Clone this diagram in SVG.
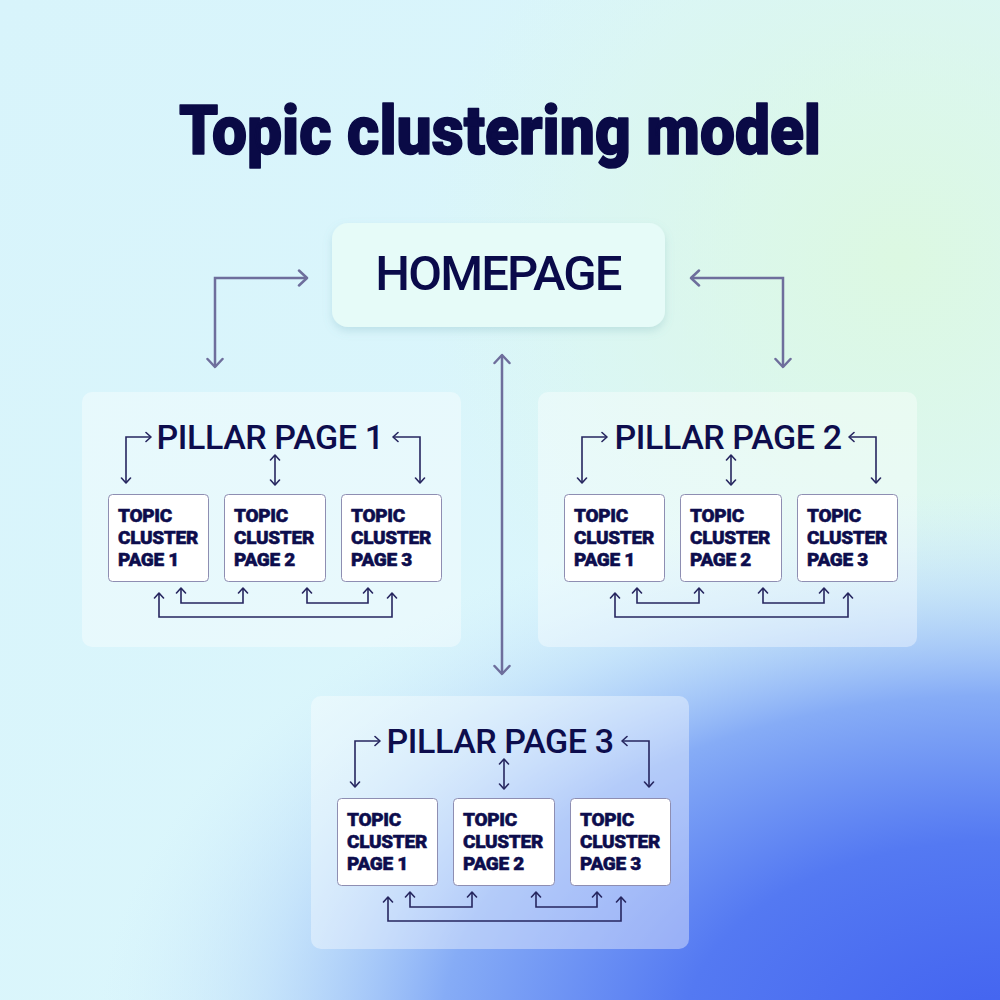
<svg xmlns="http://www.w3.org/2000/svg" width="1000" height="1000" viewBox="0 0 1000 1000">
  <defs>
    <linearGradient id="bg0" x1="0" y1="0" x2="1" y2="1">
      <stop offset="0" stop-color="#d8f4fb"/>
      <stop offset="1" stop-color="#dcf7fc"/>
    </linearGradient>
    <radialGradient id="green" cx="900" cy="260" r="480" gradientUnits="userSpaceOnUse">
      <stop offset="0" stop-color="#dcf8e2" stop-opacity="1"/>
      <stop offset="1" stop-color="#dcf8e2" stop-opacity="0"/>
    </radialGradient>
    <radialGradient id="blue" cx="0" cy="0" r="1" gradientUnits="userSpaceOnUse" gradientTransform="translate(1000,1030) scale(900,540)">
      <stop offset="0" stop-color="#4262f0"/>
      <stop offset="0.35" stop-color="#5479f2"/>
      <stop offset="0.62" stop-color="#86acf6"/>
      <stop offset="0.82" stop-color="#b8d8fa" stop-opacity="0.6"/>
      <stop offset="1" stop-color="#d0ecfb" stop-opacity="0"/>
    </radialGradient>
    <filter id="shadow" x="-10%" y="-10%" width="120%" height="140%">
      <feDropShadow dx="0" dy="4" stdDeviation="4" flood-color="#6aa6b0" flood-opacity="0.25"/>
    </filter>
    <marker id="ah" viewBox="0 0 12 18" refX="10" refY="9" markerWidth="12" markerHeight="18" markerUnits="userSpaceOnUse" orient="auto-start-reverse">
      <path d="M2,1.5 L10,9 L2,16.5" fill="none" stroke="#6e6e9c" stroke-width="2.5" stroke-linecap="round" stroke-linejoin="round"/>
    </marker>
    <marker id="as" viewBox="0 0 8 12" refX="7" refY="6" markerWidth="8" markerHeight="12" markerUnits="userSpaceOnUse" orient="auto-start-reverse">
      <path d="M2,1.5 L7,6 L2,10.5" fill="none" stroke="#26265f" stroke-width="1.6" stroke-linecap="round" stroke-linejoin="round"/>
    </marker>
    <style>
      .title { font-family: Roboto, "Liberation Sans", sans-serif; font-weight: 900; fill: #0a0a46; stroke: #0a0a46; stroke-width: 1.6px; stroke-linejoin: round; }
      .home { font-family: Roboto, "Liberation Sans", sans-serif; font-weight: 500; fill: #0a0a4a; letter-spacing: -1.8px; }
      .pill { font-family: Roboto, "Liberation Sans", sans-serif; font-weight: 500; font-size: 34px; fill: #0d0d4d; letter-spacing: -0.4px; }
      .tc { font-family: Roboto, "Liberation Sans", sans-serif; font-weight: 900; font-size: 19px; fill: #0d0d4d; stroke: #0d0d4d; stroke-width: 0.5px; stroke-linejoin: round; letter-spacing: -0.3px; }
      .pbox { fill: #ffffff; fill-opacity: 0.38; }
      .cbox { fill: #ffffff; stroke: #8e8eb2; stroke-width: 1; }
      .big { fill: none; stroke: #6e6e9c; stroke-width: 2.5; marker-start: url(#ah); marker-end: url(#ah); }
      .sm { fill: none; stroke: #26265f; stroke-width: 1.6; marker-start: url(#as); marker-end: url(#as); }
    </style>
    <g id="pillarContent">
      <rect class="cbox" x="108.5" y="494.5" width="100" height="87" rx="4"/>
      <rect class="cbox" x="224.5" y="494.5" width="101" height="87" rx="4"/>
      <rect class="cbox" x="341.5" y="494.5" width="100" height="87" rx="4"/>
      <text class="tc" x="118" y="522">TOPIC</text>
      <text class="tc" x="118" y="544">CLUSTER</text>
      <text class="tc" x="118" y="566">PAGE 1</text>
      <text class="tc" x="234" y="522">TOPIC</text>
      <text class="tc" x="234" y="544">CLUSTER</text>
      <text class="tc" x="234" y="566">PAGE 2</text>
      <text class="tc" x="351" y="522">TOPIC</text>
      <text class="tc" x="351" y="544">CLUSTER</text>
      <text class="tc" x="351" y="566">PAGE 3</text>
    </g>
    <g id="pillarLinks">
      <path class="sm" d="M126,483 V437 H151"/>
      <path class="sm" d="M393,437 H420 V483"/>
      <path class="sm" d="M275,455 V485"/>
      <path class="sm" d="M181,588 V603 H243 V588"/>
      <path class="sm" d="M307,588 V603 H368 V588"/>
      <path class="sm" d="M159,593 V617 H392 V593"/>
    </g>
  </defs>

  <rect width="1000" height="1000" fill="url(#bg0)"/>
  <rect width="1000" height="1000" fill="url(#green)"/>
  <rect width="1000" height="1000" fill="url(#blue)"/>

  <text class="title" x="500" y="154" font-size="69" text-anchor="middle" textLength="642" lengthAdjust="spacingAndGlyphs">Topic clustering model</text>

  <g id="homepage">
    <rect x="332" y="223" width="333" height="104" rx="16" fill="#e6fbf8" filter="url(#shadow)"/>
    <text class="home" x="498" y="290" font-size="49" text-anchor="middle">HOMEPAGE</text>
  </g>

  <g id="pillar1">
    <rect class="pbox" x="82" y="392" width="379" height="255" rx="10"/>
    <text class="pill" x="270" y="449" text-anchor="middle">PILLAR PAGE 1</text>
    <use href="#pillarContent"/>
  </g>

  <g id="pillar2">
    <rect class="pbox" x="538" y="392" width="379" height="255" rx="10"/>
    <text class="pill" x="728" y="449" text-anchor="middle">PILLAR PAGE 2</text>
    <use href="#pillarContent" transform="translate(456,0)"/>
  </g>

  <g id="pillar3">
    <rect class="pbox" x="311" y="696" width="378" height="253" rx="10"/>
    <text class="pill" x="500" y="753" text-anchor="middle">PILLAR PAGE 3</text>
    <use href="#pillarContent" transform="translate(229,304)"/>
  </g>

  <g id="connectors">
    <path class="big" d="M307,278 H215 V367"/>
    <path class="big" d="M691,278 H783 V367"/>
    <path class="big" d="M502,355 V674"/>
    <use href="#pillarLinks"/>
    <use href="#pillarLinks" transform="translate(456,0)"/>
    <use href="#pillarLinks" transform="translate(229,304)"/>
  </g>
</svg>
